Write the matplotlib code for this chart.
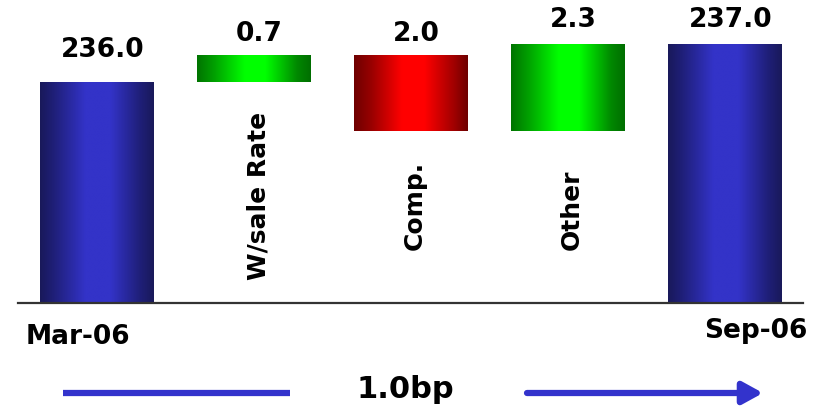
import numpy as np
import matplotlib
matplotlib.use("Agg")
import matplotlib.pyplot as plt
from matplotlib.colors import LinearSegmentedColormap
from matplotlib.lines import Line2D
from matplotlib.patches import FancyArrowPatch

# ---- data ----
categories = ["Mar-06", "W/sale Rate", "Comp.", "Other", "Sep-06"]
start_value = 236.0
deltas = [0.7, -2.0, 2.3]
end_value = 237.0
footer_label = "1.0bp"

plt.rcParams['font.family'] = ['DejaVu Sans']

W, H = 825, 408
fig = plt.figure(figsize=(W / 100, H / 100), dpi=100)
ax = fig.add_axes([18 / W, (H - 303) / H, (803 - 18) / W, 303 / H])

# waterfall geometry from data
base = 230.18
bottoms = [base]
heights = [start_value - base]
kinds = ["total"]
level = start_value
for d in deltas:
    if d >= 0:
        bottoms.append(level)
        heights.append(d)
        kinds.append("up")
    else:
        bottoms.append(level + d)
        heights.append(-d)
        kinds.append("down")
    level += d
bottoms.append(base)
heights.append(end_value - base)
kinds.append("total")
label_values = [start_value] + [abs(d) for d in deltas] + [end_value]

x = np.arange(len(categories))
bars = ax.bar(x, heights, bottom=bottoms, width=0.72, color="none",
              edgecolor="none", zorder=2)

cmaps = {
    "total": LinearSegmentedColormap.from_list(
        "b", [(0, "#19195a"), (0.12, "#1f1f78"), (0.4, "#3333c8"),
              (0.62, "#3333c8"), (0.88, "#1f1f78"), (1, "#19195a")]),
    "up": LinearSegmentedColormap.from_list(
        "g", [(0, "#007400"), (0.15, "#00a000"), (0.42, "#00ff00"),
              (0.6, "#00ff00"), (0.88, "#008800"), (1, "#006e00")]),
    "down": LinearSegmentedColormap.from_list(
        "r", [(0, "#6e0000"), (0.15, "#980000"), (0.42, "#ff0000"),
              (0.62, "#ff0000"), (0.88, "#a00000"), (1, "#6e0000")]),
}
grad = np.linspace(0, 1, 256).reshape(1, -1)
for b, k in zip(bars, kinds):
    bx, by = b.get_x(), b.get_y()
    bw, bh = b.get_width(), b.get_height()
    im = ax.imshow(grad, cmap=cmaps[k], aspect="auto",
                   extent=(bx, bx + bw, by, by + bh), zorder=2,
                   interpolation="bilinear")
    im.set_clip_path(b)

ax.set_xlim(-0.5, 4.5)
ax.set_ylim(base, 238.16)

for s in ["top", "right", "left"]:
    ax.spines[s].set_visible(False)
ax.spines["bottom"].set_color("#333333")
ax.spines["bottom"].set_linewidth(1.6)
ax.set_xticks([])
ax.set_yticks([])
ax.patch.set_alpha(0)

# value labels
label_offsets = [32, 21, 21, 24, 24]
for i, (b, v) in enumerate(zip(bars, label_values)):
    top = b.get_y() + b.get_height()
    ax.annotate(f"{v:.1f}", (x[i], top), xytext=(6, label_offsets[i]),
                textcoords="offset pixels", ha="center", va="center",
                fontsize=19, fontweight="bold", color="black")

# rotated category labels for the change bars
rot_bottoms = [None, 0.076, 0.175, 0.175, None]
for i in range(1, 4):
    ax.text(x[i] + 0.03, rot_bottoms[i], categories[i],
            transform=ax.get_xaxis_transform(), rotation=90,
            ha="center", va="bottom", fontsize=18, fontweight="bold")

# end labels
fig.text(26 / W, 1 - 337 / H, categories[0], ha="left", va="center",
         fontsize=19, fontweight="bold")
fig.text(808 / W, 1 - 331 / H, categories[4], ha="right", va="center",
         fontsize=19, fontweight="bold")

# footer arrow
arrow_color = "#3333cc"
fig.add_artist(Line2D([63 / W, 290 / W], [1 - 393 / H, 1 - 393 / H],
                     color=arrow_color, linewidth=4.5, solid_capstyle="butt"))
fig.add_artist(FancyArrowPatch((527 / W, 1 - 393 / H), (763 / W, 1 - 393 / H),
                               transform=fig.transFigure,
                               arrowstyle="-|>,head_length=1.0,head_width=0.55",
                               mutation_scale=12, color=arrow_color,
                               linewidth=4.5, shrinkA=0, shrinkB=0))
fig.text(405 / W, 1 - 389 / H, footer_label, ha="center", va="center",
         fontsize=22, fontweight="bold")

fig.savefig("out.png", dpi=100)
